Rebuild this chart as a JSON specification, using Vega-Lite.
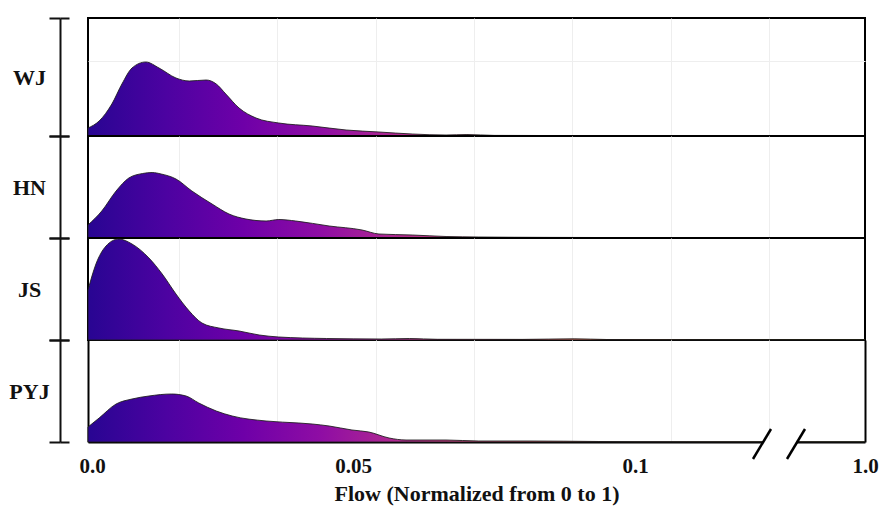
{
  "$schema": "https://vega.github.io/schema/vega-lite/v6.json",
  "background": "white",
  "padding": {"left": 8, "top": 16, "right": 5, "bottom": 5},
  "bounds": "flush",
  "config": {
    "font": "Liberation Serif",
    "view": {"stroke": "#000000", "strokeWidth": 2},
    "concat": {"spacing": 0}
  },
  "datasets": {
    "ridges": [
      {"series": "WJ", "flow": 0, "density": 8},
      {"series": "WJ", "flow": 0.0021, "density": 15},
      {"series": "WJ", "flow": 0.0045, "density": 32},
      {"series": "WJ", "flow": 0.0064, "density": 52},
      {"series": "WJ", "flow": 0.0083, "density": 68},
      {"series": "WJ", "flow": 0.0109, "density": 74},
      {"series": "WJ", "flow": 0.0134, "density": 68},
      {"series": "WJ", "flow": 0.0166, "density": 58},
      {"series": "WJ", "flow": 0.0191, "density": 55},
      {"series": "WJ", "flow": 0.0223, "density": 56},
      {"series": "WJ", "flow": 0.0242, "density": 52},
      {"series": "WJ", "flow": 0.026, "density": 42},
      {"series": "WJ", "flow": 0.0285, "density": 28},
      {"series": "WJ", "flow": 0.0317, "density": 18},
      {"series": "WJ", "flow": 0.036, "density": 13},
      {"series": "WJ", "flow": 0.0423, "density": 10},
      {"series": "WJ", "flow": 0.0487, "density": 6},
      {"series": "WJ", "flow": 0.0546, "density": 4},
      {"series": "WJ", "flow": 0.0605, "density": 2},
      {"series": "WJ", "flow": 0.0665, "density": 1},
      {"series": "WJ", "flow": 0.0702, "density": 1.5},
      {"series": "WJ", "flow": 0.075, "density": 0.6},
      {"series": "WJ", "flow": 0.09, "density": 0.4},
      {"series": "WJ", "flow": 0.1, "density": 0.3},
      {"series": "WJ", "flow": 0.3, "density": 0.2},
      {"series": "WJ", "flow": 0.6, "density": 0.2},
      {"series": "WJ", "flow": 1.0, "density": 0.2},

      {"series": "HN", "flow": 0, "density": 13},
      {"series": "HN", "flow": 0.0026, "density": 27},
      {"series": "HN", "flow": 0.0053, "density": 47},
      {"series": "HN", "flow": 0.0077, "density": 60},
      {"series": "HN", "flow": 0.0103, "density": 64.5},
      {"series": "HN", "flow": 0.0121, "density": 65.5},
      {"series": "HN", "flow": 0.0138, "density": 64},
      {"series": "HN", "flow": 0.0166, "density": 59},
      {"series": "HN", "flow": 0.0196, "density": 47},
      {"series": "HN", "flow": 0.0234, "density": 34},
      {"series": "HN", "flow": 0.0266, "density": 24},
      {"series": "HN", "flow": 0.0298, "density": 19},
      {"series": "HN", "flow": 0.0336, "density": 17},
      {"series": "HN", "flow": 0.036, "density": 18.5},
      {"series": "HN", "flow": 0.0392, "density": 17},
      {"series": "HN", "flow": 0.0455, "density": 12},
      {"series": "HN", "flow": 0.0516, "density": 8},
      {"series": "HN", "flow": 0.0546, "density": 4},
      {"series": "HN", "flow": 0.0605, "density": 3},
      {"series": "HN", "flow": 0.0665, "density": 1.5},
      {"series": "HN", "flow": 0.0723, "density": 1},
      {"series": "HN", "flow": 0.085, "density": 0.6},
      {"series": "HN", "flow": 0.1, "density": 0.4},
      {"series": "HN", "flow": 0.3, "density": 0.3},
      {"series": "HN", "flow": 0.6, "density": 0.3},
      {"series": "HN", "flow": 1.0, "density": 0.3},

      {"series": "JS", "flow": 0, "density": 50},
      {"series": "JS", "flow": 0.0015, "density": 76},
      {"series": "JS", "flow": 0.0034, "density": 94},
      {"series": "JS", "flow": 0.0058, "density": 101},
      {"series": "JS", "flow": 0.0083, "density": 96},
      {"series": "JS", "flow": 0.0115, "density": 82},
      {"series": "JS", "flow": 0.014, "density": 66},
      {"series": "JS", "flow": 0.0166, "density": 46},
      {"series": "JS", "flow": 0.0191, "density": 29},
      {"series": "JS", "flow": 0.0215, "density": 17},
      {"series": "JS", "flow": 0.0247, "density": 12},
      {"series": "JS", "flow": 0.0285, "density": 9},
      {"series": "JS", "flow": 0.0323, "density": 5},
      {"series": "JS", "flow": 0.036, "density": 3},
      {"series": "JS", "flow": 0.045, "density": 1.5},
      {"series": "JS", "flow": 0.055, "density": 1},
      {"series": "JS", "flow": 0.06, "density": 1.5},
      {"series": "JS", "flow": 0.065, "density": 0.7},
      {"series": "JS", "flow": 0.08, "density": 0.6},
      {"series": "JS", "flow": 0.0892, "density": 1.2},
      {"series": "JS", "flow": 0.095, "density": 0.5},
      {"series": "JS", "flow": 0.1, "density": 0.4},
      {"series": "JS", "flow": 0.3, "density": 0.3},
      {"series": "JS", "flow": 0.6, "density": 0.3},
      {"series": "JS", "flow": 1.0, "density": 0.3},

      {"series": "PYJ", "flow": 0, "density": 15},
      {"series": "PYJ", "flow": 0.0021, "density": 24},
      {"series": "PYJ", "flow": 0.0053, "density": 38},
      {"series": "PYJ", "flow": 0.0083, "density": 43},
      {"series": "PYJ", "flow": 0.0115, "density": 46},
      {"series": "PYJ", "flow": 0.0158, "density": 48},
      {"series": "PYJ", "flow": 0.0185, "density": 46},
      {"series": "PYJ", "flow": 0.0209, "density": 39},
      {"series": "PYJ", "flow": 0.0242, "density": 31},
      {"series": "PYJ", "flow": 0.0272, "density": 26},
      {"series": "PYJ", "flow": 0.0336, "density": 21},
      {"series": "PYJ", "flow": 0.0398, "density": 19},
      {"series": "PYJ", "flow": 0.0423, "density": 18},
      {"series": "PYJ", "flow": 0.0455, "density": 16},
      {"series": "PYJ", "flow": 0.0498, "density": 12},
      {"series": "PYJ", "flow": 0.0528, "density": 10},
      {"series": "PYJ", "flow": 0.0564, "density": 4},
      {"series": "PYJ", "flow": 0.0594, "density": 2},
      {"series": "PYJ", "flow": 0.0665, "density": 2},
      {"series": "PYJ", "flow": 0.0723, "density": 1},
      {"series": "PYJ", "flow": 0.0812, "density": 1},
      {"series": "PYJ", "flow": 0.0936, "density": 0.5},
      {"series": "PYJ", "flow": 0.1, "density": 0.3},
      {"series": "PYJ", "flow": 0.3, "density": 0.3},
      {"series": "PYJ", "flow": 0.6, "density": 0.3},
      {"series": "PYJ", "flow": 1.0, "density": 0.3}
    ]
  },
  "resolve": {"scale": {"x": "independent", "y": "independent"}},
  "spacing": 0,
  "vconcat": [
    {
      "width": 777, "height": 118,
      "data": {"name": "ridges"},
      "transform": [{"filter": "datum.series === 'WJ'"}],
      "resolve": {"axis": {"y": "independent"}},
      "layer": [
        {
          "mark": {"type": "area", "interpolate": "monotone", "stroke": "#1a1a1a", "strokeWidth": 1, "strokeOpacity": 0.85,
            "fill": {"gradient": "linear", "x1": 0, "y1": 0, "x2": 1, "y2": 0, "stops": [
              {"offset": 0, "color": "#280592"}, {"offset": 0.1, "color": "#4c02a1"}, {"offset": 0.2, "color": "#6e00a8"},
              {"offset": 0.3, "color": "#8f0da4"}, {"offset": 0.4, "color": "#b12a90"}, {"offset": 0.5, "color": "#cc4778"},
              {"offset": 0.6, "color": "#e16462"}, {"offset": 0.7, "color": "#f2844b"}, {"offset": 0.8, "color": "#fca636"},
              {"offset": 0.9, "color": "#fcce25"}, {"offset": 1, "color": "#f0f921"}]}},
          "encoding": {
            "x": {"field": "flow", "type": "quantitative",
              "scale": {"domain": [0, 0.05, 0.1, 1], "range": [0, 265, 547, 777]},
              "axis": {"title": null, "labels": false, "ticks": false, "domain": false, "grid": true, "gridColor": "#eeeeee",
                "values": [0, 0.01717, 0.03566, 0.05, 0.05408, 0.07145, 0.08883, 0.1, 0.2409, 0.6243, 1],
                "gridOpacity": {"condition": {"test": "datum.value == 0 || datum.value == 0.05 || datum.value == 0.1 || datum.value == 1", "value": 0}, "value": 1}}},
            "y": {"field": "density", "type": "quantitative",
              "scale": {"domain": [0, 118], "nice": false},
              "axis": {"orient": "left", "title": "WJ", "titleAngle": 0, "titleX": -31, "titleY": 59, "titleAlign": "center", "titleBaseline": "middle",
                "titleFont": "Liberation Serif", "titleFontSize": 22, "titleFontWeight": "bold", "titleColor": "#111111",
                "labels": false, "values": [0, 75, 118], "tickSize": 11, "tickWidth": 2, "tickColor": "#111111",
                "domainColor": "#111111", "domainWidth": 2, "offset": 28, "grid": true, "gridColor": "#eeeeee",
                "gridOpacity": {"condition": {"test": "datum.value == 75", "value": 1}, "value": 0},
                "tickOpacity": {"condition": {"test": "datum.value == 75", "value": 0}, "value": 1}}}
          }
        },
        {
          "mark": {"type": "point", "opacity": 0},
          "encoding": {
            "x": {"field": "flow", "type": "quantitative"},
            "y": {"field": "density", "type": "quantitative",
              "axis": {"orient": "left", "offset": 19, "domain": false, "labels": false, "title": null, "grid": false,
                "values": [0, 118], "tickSize": 9, "tickWidth": 2, "tickColor": "#111111"}}
          }
        }
      ]
    },
    {
      "width": 777, "height": 102,
      "data": {"name": "ridges"},
      "transform": [{"filter": "datum.series === 'HN'"}],
      "resolve": {"axis": {"y": "independent"}},
      "layer": [
        {
          "mark": {"type": "area", "interpolate": "monotone", "stroke": "#1a1a1a", "strokeWidth": 1, "strokeOpacity": 0.85,
            "fill": {"gradient": "linear", "x1": 0, "y1": 0, "x2": 1, "y2": 0, "stops": [
              {"offset": 0, "color": "#280592"}, {"offset": 0.1, "color": "#4c02a1"}, {"offset": 0.2, "color": "#6e00a8"},
              {"offset": 0.3, "color": "#8f0da4"}, {"offset": 0.4, "color": "#b12a90"}, {"offset": 0.5, "color": "#cc4778"},
              {"offset": 0.6, "color": "#e16462"}, {"offset": 0.7, "color": "#f2844b"}, {"offset": 0.8, "color": "#fca636"},
              {"offset": 0.9, "color": "#fcce25"}, {"offset": 1, "color": "#f0f921"}]}},
          "encoding": {
            "x": {"field": "flow", "type": "quantitative",
              "scale": {"domain": [0, 0.05, 0.1, 1], "range": [0, 265, 547, 777]},
              "axis": {"title": null, "labels": false, "ticks": false, "domain": false, "grid": true, "gridColor": "#eeeeee",
                "values": [0, 0.01717, 0.03566, 0.05, 0.05408, 0.07145, 0.08883, 0.1, 0.2409, 0.6243, 1],
                "gridOpacity": {"condition": {"test": "datum.value == 0 || datum.value == 0.05 || datum.value == 0.1 || datum.value == 1", "value": 0}, "value": 1}}},
            "y": {"field": "density", "type": "quantitative",
              "scale": {"domain": [0, 102], "nice": false},
              "axis": {"orient": "left", "title": "HN", "titleAngle": 0, "titleX": -31, "titleY": 51, "titleAlign": "center", "titleBaseline": "middle",
                "titleFont": "Liberation Serif", "titleFontSize": 22, "titleFontWeight": "bold", "titleColor": "#111111",
                "labels": false, "values": [0, 102], "tickSize": 11, "tickWidth": 2, "tickColor": "#111111",
                "domainColor": "#111111", "domainWidth": 2, "offset": 28, "grid": false}}
          }
        },
        {
          "mark": {"type": "point", "opacity": 0},
          "encoding": {
            "x": {"field": "flow", "type": "quantitative"},
            "y": {"field": "density", "type": "quantitative",
              "axis": {"orient": "left", "offset": 19, "domain": false, "labels": false, "title": null, "grid": false,
                "values": [0, 102], "tickSize": 9, "tickWidth": 2, "tickColor": "#111111"}}
          }
        }
      ]
    },
    {
      "width": 777, "height": 102,
      "data": {"name": "ridges"},
      "transform": [{"filter": "datum.series === 'JS'"}],
      "resolve": {"axis": {"y": "independent"}},
      "layer": [
        {
          "mark": {"type": "area", "interpolate": "monotone", "stroke": "#1a1a1a", "strokeWidth": 1, "strokeOpacity": 0.85,
            "fill": {"gradient": "linear", "x1": 0, "y1": 0, "x2": 1, "y2": 0, "stops": [
              {"offset": 0, "color": "#280592"}, {"offset": 0.1, "color": "#4c02a1"}, {"offset": 0.2, "color": "#6e00a8"},
              {"offset": 0.3, "color": "#8f0da4"}, {"offset": 0.4, "color": "#b12a90"}, {"offset": 0.5, "color": "#cc4778"},
              {"offset": 0.6, "color": "#e16462"}, {"offset": 0.7, "color": "#f2844b"}, {"offset": 0.8, "color": "#fca636"},
              {"offset": 0.9, "color": "#fcce25"}, {"offset": 1, "color": "#f0f921"}]}},
          "encoding": {
            "x": {"field": "flow", "type": "quantitative",
              "scale": {"domain": [0, 0.05, 0.1, 1], "range": [0, 265, 547, 777]},
              "axis": {"title": null, "labels": false, "ticks": false, "domain": false, "grid": true, "gridColor": "#eeeeee",
                "values": [0, 0.01717, 0.03566, 0.05, 0.05408, 0.07145, 0.08883, 0.1, 0.2409, 0.6243, 1],
                "gridOpacity": {"condition": {"test": "datum.value == 0 || datum.value == 0.05 || datum.value == 0.1 || datum.value == 1", "value": 0}, "value": 1}}},
            "y": {"field": "density", "type": "quantitative",
              "scale": {"domain": [0, 102], "nice": false},
              "axis": {"orient": "left", "title": "JS", "titleAngle": 0, "titleX": -31, "titleY": 51, "titleAlign": "center", "titleBaseline": "middle",
                "titleFont": "Liberation Serif", "titleFontSize": 22, "titleFontWeight": "bold", "titleColor": "#111111",
                "labels": false, "values": [0, 102], "tickSize": 11, "tickWidth": 2, "tickColor": "#111111",
                "domainColor": "#111111", "domainWidth": 2, "offset": 28, "grid": false}}
          }
        },
        {
          "mark": {"type": "point", "opacity": 0},
          "encoding": {
            "x": {"field": "flow", "type": "quantitative"},
            "y": {"field": "density", "type": "quantitative",
              "axis": {"orient": "left", "offset": 19, "domain": false, "labels": false, "title": null, "grid": false,
                "values": [0, 102], "tickSize": 9, "tickWidth": 2, "tickColor": "#111111"}}
          }
        }
      ]
    },
    {
      "width": 777, "height": 102,
      "view": {"stroke": null},
      "resolve": {"axis": {"y": "independent"}},
      "layer": [
        {
          "data": {"name": "ridges"},
          "transform": [{"filter": "datum.series === 'PYJ'"}],
          "mark": {"type": "area", "interpolate": "monotone", "stroke": "#1a1a1a", "strokeWidth": 1, "strokeOpacity": 0.85,
            "fill": {"gradient": "linear", "x1": 0, "y1": 0, "x2": 1, "y2": 0, "stops": [
              {"offset": 0, "color": "#280592"}, {"offset": 0.1, "color": "#4c02a1"}, {"offset": 0.2, "color": "#6e00a8"},
              {"offset": 0.3, "color": "#8f0da4"}, {"offset": 0.4, "color": "#b12a90"}, {"offset": 0.5, "color": "#cc4778"},
              {"offset": 0.6, "color": "#e16462"}, {"offset": 0.7, "color": "#f2844b"}, {"offset": 0.8, "color": "#fca636"},
              {"offset": 0.9, "color": "#fcce25"}, {"offset": 1, "color": "#f0f921"}]}},
          "encoding": {
            "x": {"field": "flow", "type": "quantitative",
              "scale": {"domain": [0, 0.05, 0.1, 1], "range": [0, 265, 547, 777]},
              "axis": {"title": "Flow (Normalized from 0 to 1)", "titleFont": "Liberation Serif", "titleFontSize": 22, "titleFontWeight": "bold", "titleColor": "#111111", "titlePadding": 7,
                "labelFont": "Liberation Serif", "labelFontSize": 21, "labelFontWeight": "bold", "labelColor": "#111111", "labelPadding": 13,
                "labelExpr": "datum.value == 0 ? '0.0' : datum.value == 0.05 ? '0.05' : datum.value == 0.1 ? '0.1' : datum.value == 1 ? '1.0' : ''",
                "labelOffset": {"condition": {"test": "datum.value == 0", "value": 4}, "value": 0},
                "labelOverlap": false, "labelFlush": false,
                "ticks": false, "tickSize": 0, "domain": true, "domainColor": "#000000", "domainWidth": 2,
                "grid": true,
                "gridColor": {"condition": {"test": "datum.value == 0 || datum.value == 1", "value": "#000000"}, "value": "#eeeeee"},
                "gridWidth": {"condition": {"test": "datum.value == 0 || datum.value == 1", "value": 2}, "value": 1},
                "values": [0, 0.01717, 0.03566, 0.05, 0.05408, 0.07145, 0.08883, 0.1, 0.2409, 0.6243, 1],
                "gridOpacity": {"condition": {"test": "datum.value == 0.05 || datum.value == 0.1", "value": 0}, "value": 1}}},
            "y": {"field": "density", "type": "quantitative",
              "scale": {"domain": [0, 102], "nice": false},
              "axis": {"orient": "left", "title": "PYJ", "titleAngle": 0, "titleX": -31, "titleY": 51, "titleAlign": "center", "titleBaseline": "middle",
                "titleFont": "Liberation Serif", "titleFontSize": 22, "titleFontWeight": "bold", "titleColor": "#111111",
                "labels": false, "values": [0, 102], "tickSize": 11, "tickWidth": 2, "tickColor": "#111111",
                "domainColor": "#111111", "domainWidth": 2, "offset": 28, "grid": false}}
          }
        },
        {
          "data": {"name": "ridges"},
          "transform": [{"filter": "datum.series === 'PYJ'"}],
          "mark": {"type": "point", "opacity": 0},
          "encoding": {
            "x": {"field": "flow", "type": "quantitative"},
            "y": {"field": "density", "type": "quantitative",
              "axis": {"orient": "left", "offset": 19, "domain": false, "labels": false, "title": null, "grid": false,
                "values": [0, 102], "tickSize": 9, "tickWidth": 2, "tickColor": "#111111"}}
          }
        },
        {
          "data": {"values": [{}]},
          "mark": {"type": "rule", "color": "#ffffff", "strokeWidth": 6},
          "encoding": {"x": {"datum": 0.6009}, "x2": {"datum": 0.7339}, "y": {"datum": 0, "axis": null}}
        },
        {
          "data": {"values": [{}]},
          "mark": {"type": "rule", "color": "#000000", "strokeWidth": 2.5},
          "encoding": {"x": {"datum": 0.5617}, "x2": {"datum": 0.6322}, "y": {"datum": -17, "axis": null}, "y2": {"datum": 13}}
        },
        {
          "data": {"values": [{}]},
          "mark": {"type": "rule", "color": "#000000", "strokeWidth": 2.5},
          "encoding": {"x": {"datum": 0.6948}, "x2": {"datum": 0.7652}, "y": {"datum": -17, "axis": null}, "y2": {"datum": 13}}
        }
      ]
    }
  ]
}
